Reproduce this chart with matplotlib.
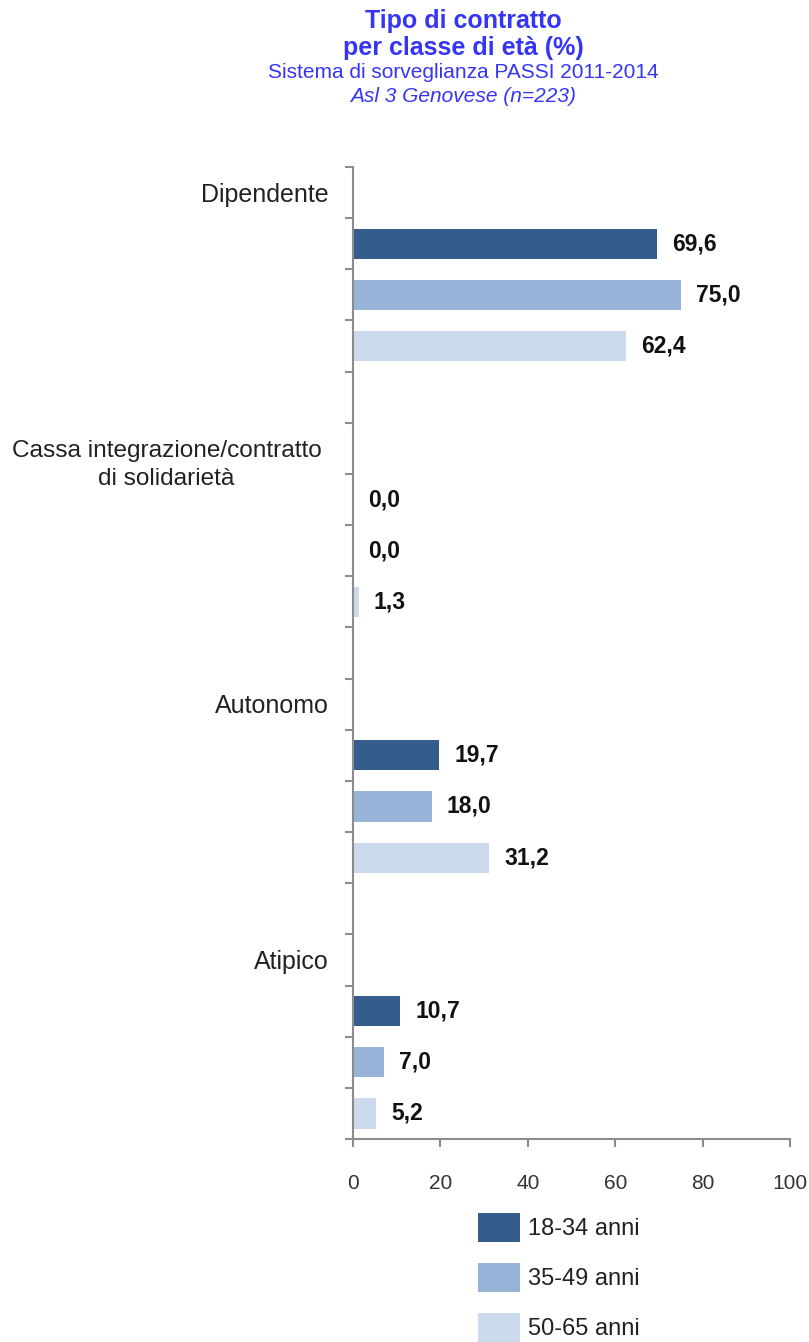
import matplotlib
matplotlib.use("Agg")
import matplotlib.pyplot as plt
from matplotlib.patches import Patch
from matplotlib.transforms import blended_transform_factory

plt.rcParams['font.family'] = ['Liberation Sans Narrow', 'Liberation Sans', 'DejaVu Sans']

categories = ["Dipendente", "Cassa integrazione/contratto\ndi solidarietà", "Autonomo", "Atipico"]
series_names = ["18-34 anni", "35-49 anni", "50-65 anni"]
v_18_34 = [69.6, 0.0, 19.7, 10.7]
v_35_49 = [75.0, 0.0, 18.0, 7.0]
v_50_65 = [62.4, 1.3, 31.2, 5.2]
colors = ["#355d8c", "#97b4d8", "#cbdaec"]
x_ticks = [0, 20, 40, 60, 80, 100]

blue = "#3535f5"
axis_gray = "#8c8c8c"

fig = plt.figure(figsize=(8.09, 13.42), dpi=100)
ax = fig.add_axes([353/809, 1 - 1139/1342, 437/809, 972/1342])

n_rows = len(categories) * 5 - 1
values = [v_18_34, v_35_49, v_50_65]

for s, vals in enumerate(values):
    ys = [5 * i + 1 + s for i in range(len(categories))]
    ax.barh(ys, vals, height=0.59, color=colors[s])
    for y, v in zip(ys, vals):
        ax.annotate(f"{v:.1f}".replace(".", ","), (v, y), xytext=(11, 0),
                    textcoords="offset points", va="center", ha="left",
                    fontsize=16.5, fontweight="bold", color="#111111")

lab_trans = blended_transform_factory(ax.transAxes, ax.transData)
for i, cat in enumerate(categories):
    if "\n" in cat:
        ax.text(-0.072, 5 * i - 0.16, cat, transform=lab_trans,
                ha="right", va="top", multialignment="center", fontsize=17.6,
                color="#222222", linespacing=1.35)
    else:
        ax.text(-0.055, 5 * i + 0.04, cat, transform=lab_trans,
                ha="right", va="center", fontsize=18, color="#222222")

ax.set_ylim(n_rows - 0.5, -0.5)
ax.set_xlim(0, 100)
ax.set_yticks([r - 0.5 for r in range(n_rows + 1)])
ax.set_yticklabels([])
ax.set_xticks(x_ticks)
ax.set_xticklabels([str(t) for t in x_ticks], fontsize=15, color="#333333")

for side in ["top", "right"]:
    ax.spines[side].set_visible(False)
for side in ["left", "bottom"]:
    ax.spines[side].set_color(axis_gray)
    ax.spines[side].set_linewidth(1.5)
ax.tick_params(axis="both", colors=axis_gray, length=6, width=1.5, direction="out")
ax.tick_params(axis="x", labelcolor="#333333", pad=19)

fig.text(463/809, 1 - 21/1342, "Tipo di contratto", ha="center", va="center",
         fontsize=18, fontweight="bold", color=blue)
fig.text(463/809, 1 - 48/1342, "per classe di età (%)", ha="center", va="center",
         fontsize=18, fontweight="bold", color=blue)
fig.text(463/809, 1 - 72/1342, "Sistema di sorveglianza PASSI 2011-2014", ha="center", va="center",
         fontsize=15, color=blue)
fig.text(463/809, 1 - 96/1342, "Asl 3 Genovese (n=223)", ha="center", va="center",
         fontsize=15, color=blue, style="italic")

handles = [Patch(facecolor=c, edgecolor="none") for c in colors]
fig.legend(handles, series_names, loc="upper left",
           bbox_to_anchor=(478/809, 1 - 1213/1342), frameon=False,
           fontsize=17, handlelength=1.78, handleheight=1.53,
           labelspacing=0.87, handletextpad=0.34, borderpad=0, borderaxespad=0,
           labelcolor="#222222")

fig.savefig("out.png", dpi=100)
